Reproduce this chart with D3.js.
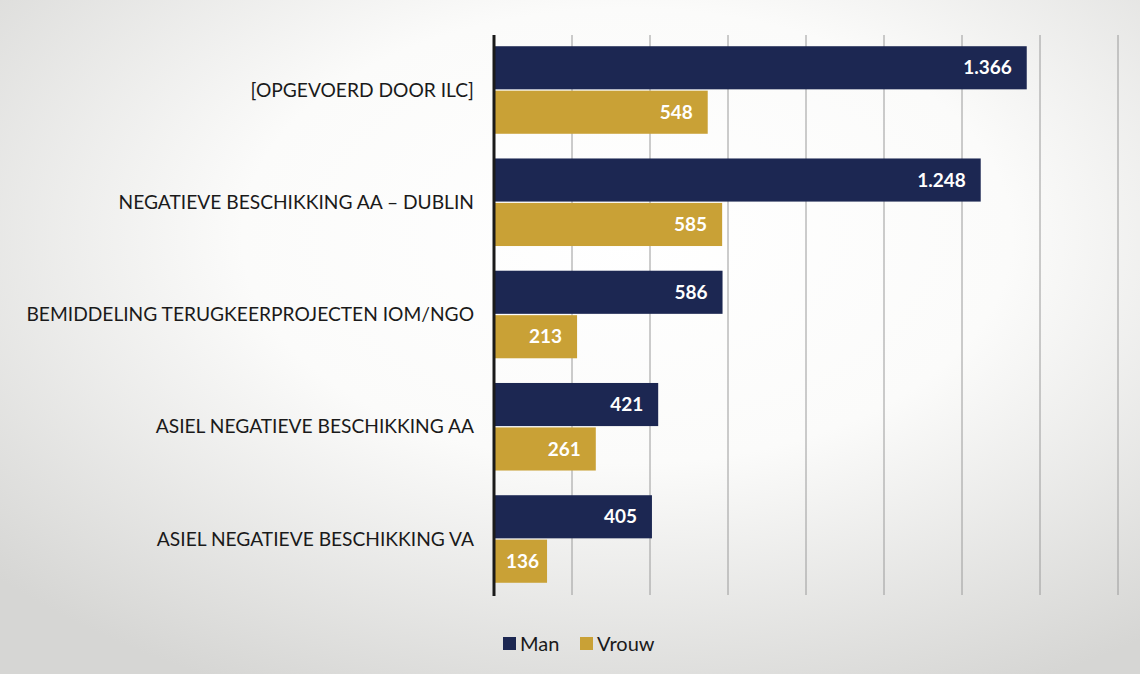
<!DOCTYPE html>
<html><head><meta charset="utf-8">
<script src="https://cdn.jsdelivr.net/npm/d3@7/dist/d3.min.js"></script>
<style>html,body{margin:0;padding:0;background:#fff;}svg{display:block;}</style>
</head><body><svg id="c" width="1140" height="674"></svg>
<script>
const categories = ["[OPGEVOERD DOOR ILC]","NEGATIEVE BESCHIKKING AA – DUBLIN","BEMIDDELING TERUGKEERPROJECTEN IOM/NGO","ASIEL NEGATIEVE BESCHIKKING AA","ASIEL NEGATIEVE BESCHIKKING VA"];
const series = ["Man","Vrouw"];
const manValues = [1366,1248,586,421,405];
const vrouwValues = [548,585,213,261,136];
const valueLabels = [["1.366","1.248","586","421","405"],["548","585","213","261","136"]];
const xTicks = [0,200,400,600,800,1000,1200,1400,1600];
const colors = ["#1c2752","#c9a136"];

const svg = d3.select("#c");
const defs = svg.append("defs");
const rg = defs.append("radialGradient").attr("id","bg").attr("cx","0.55").attr("cy","0.35").attr("r","0.75");
rg.append("stop").attr("offset","0").attr("stop-color","#ffffff");
rg.append("stop").attr("offset","0.45").attr("stop-color","#fbfbfa");
rg.append("stop").attr("offset","1").attr("stop-color","#d6d6d4");
svg.append("rect").attr("width",1140).attr("height",674).attr("fill","url(#bg)");

const x = d3.scaleLinear().domain([0,1600]).range([494,1118]);
const y0 = d3.scaleBand().domain(categories).range([35,594]).paddingInner(0.22).paddingOuter(0.1);
const y1 = d3.scaleBand().domain(series).range([0,y0.bandwidth()]).paddingInner(0.03);

// gridlines
svg.append("g").selectAll("line").data(xTicks.slice(1)).join("line")
  .attr("x1",d=>x(d)).attr("x2",d=>x(d)).attr("y1",35).attr("y2",595)
  .attr("stroke","#9a9a9a").attr("stroke-width",1);

const data = [manValues, vrouwValues];
series.forEach((s,si)=>{
  const g = svg.append("g");
  g.selectAll("rect").data(data[si]).join("rect")
    .attr("x",x(0)).attr("y",(d,i)=>y0(categories[i])+y1(s))
    .attr("width",d=>x(d)-x(0)).attr("height",y1.bandwidth())
    .attr("fill",colors[si]);
  g.selectAll("text").data(data[si]).join("text")
    .attr("x",d=>Math.max(x(d)-15, x(0)+45)).attr("y",(d,i)=>y0(categories[i])+y1(s)+y1.bandwidth()/2)
    .attr("dy","0.35em").attr("text-anchor","end")
    .attr("font-family","Lato, 'Open Sans', sans-serif").attr("font-weight","bold")
    .attr("font-size",19).attr("fill","#ffffff")
    .text((d,i)=>valueLabels[si][i]);
});

// axis line
svg.append("line").attr("x1",x(0)).attr("x2",x(0)).attr("y1",35).attr("y2",596)
  .attr("stroke","#1a1a1a").attr("stroke-width",3);

// category labels
svg.append("g").selectAll("text").data(categories).join("text")
  .attr("x",474).attr("y",d=>y0(d)+y0.bandwidth()/2).attr("dy","0.35em")
  .attr("text-anchor","end").attr("font-family","Lato, 'Open Sans', sans-serif")
  .attr("font-size",19.2).attr("fill","#1a1a1a").text(d=>d);

// legend
const leg = svg.append("g");
const legX = [503, 580];
series.forEach((s,i)=>{
  leg.append("rect").attr("x",legX[i]).attr("y",637).attr("width",13).attr("height",13).attr("fill",colors[i]);
  leg.append("text").attr("x",legX[i]+17).attr("y",644).attr("dy","0.35em")
    .attr("font-family","Lato, 'Open Sans', sans-serif").attr("font-size",20).attr("fill","#1a1a1a").text(s);
});
</script></body></html>
